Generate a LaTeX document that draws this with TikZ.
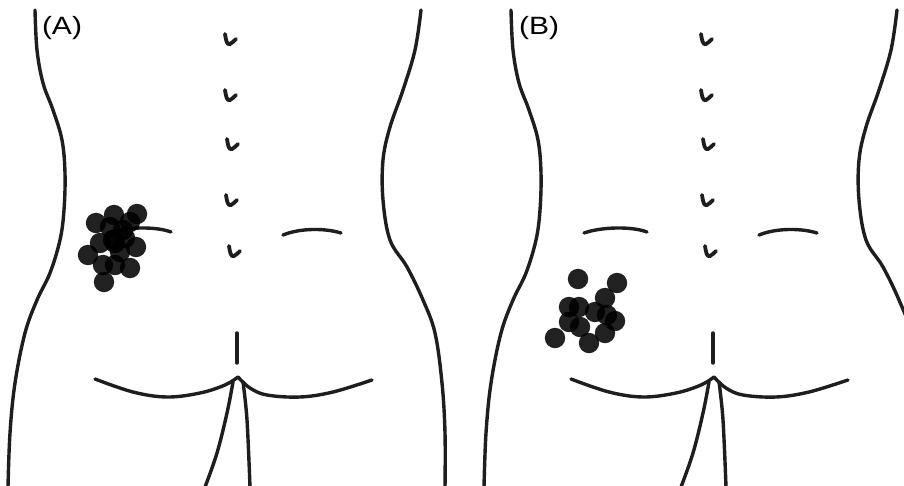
\documentclass[tikz,border=0pt]{standalone}
\usepackage{fontspec}
\setmainfont{Liberation Sans}
\begin{document}
\begin{tikzpicture}[x=1pt,y=-1pt,
  outline/.style={draw=ink,line width=3.4pt,line cap=round,line join=round},
  spine/.style={draw=ink,line width=3.8pt,line cap=round},
  lesion/.style={fill=black,fill opacity=0.87},
  panellabel/.style={font=\fontsize{25}{28}\selectfont,inner sep=0pt}]
\definecolor{ink}{HTML}{1E1E1E}
\useasboundingbox[fill=white] (0,0) rectangle (904,485);
\clip (0,0) rectangle (904,485);

% back view of the trunk, drawn once per panel
\foreach \dx in {0,476}{
\begin{scope}[xshift=\dx]
  % flanks
  \draw[outline] plot[smooth,tension=0.6] coordinates {(35,10) (37,50) (43,83) (53,110) (62,140) (65,173) (64,210) (60,240) (50,273) (37,300) (25,333) (15,383) (10,433) (8,487)};
  \draw[outline] plot[smooth,tension=0.6] coordinates {(421,10) (415,50) (403,90) (390,127) (383,160) (383,200) (390,240) (407,267) (423,300) (435,333) (442,383) (445,433) (445,487)};
  % iliac crests
  \draw[outline] (108,233) .. controls (125,227) and (155,226) .. (171,232);
  \draw[outline] (283,235) .. controls (300,228) and (325,228) .. (341,233);
  % spinous processes
  \foreach \sx/\sy in {229/40,229/96,231/145,230/201,233/252}{
    \draw[spine] (\sx-4,\sy-6) .. controls (\sx-3,\sy+1) and (\sx-2,\sy+5) .. (\sx+1,\sy+4)
                 .. controls (\sx+3,\sy+3) and (\sx+5,\sy+1) .. (\sx+7,\sy-1);
  }
  % sacral line
  \draw[outline] (237,333) -- (237,363);
  % gluteal folds
  \draw[outline] plot[smooth,tension=0.6] coordinates {(95,379) (133,392) (167,397) (200,393) (225,385) (238,377)};
  \draw[outline] plot[smooth,tension=0.6] coordinates {(238,377) (250,388) (267,395) (300,397) (333,392) (372,380)};
  % gluteal cleft
  \draw[outline] plot[smooth,tension=0.6] coordinates {(233,382) (227,413) (217,453) (205,487)};
  \draw[outline] plot[smooth,tension=0.6] coordinates {(243,382) (247,420) (250,487)};
\end{scope}
}

% panel labels
\node[panellabel] (labA) at (62,28) {\scalebox{1.2}[1]{(A)}};
\node[panellabel] (labB) at (539,28) {\scalebox{1.2}[1]{(B)}};

% lesion sites, panel A
\foreach \px/\py in {96/223,114/215,137/214,130/222,110/227,123/230,100/243,113/240,125/238,136/247,115/243,88/255,103/265,115/265,130/268,104/282,120/252}{
  \fill[lesion] (\px,\py) circle (10.2);
}
% lesion sites, panel B
\foreach \px/\py in {578/279,617/283,605/298,569/307,579/307,595/312,607/315,615/321,569/322,580/327,605/333,555/338,589/343}{
  \fill[lesion] (\px,\py) circle (10.2);
}
\end{tikzpicture}
\end{document}
